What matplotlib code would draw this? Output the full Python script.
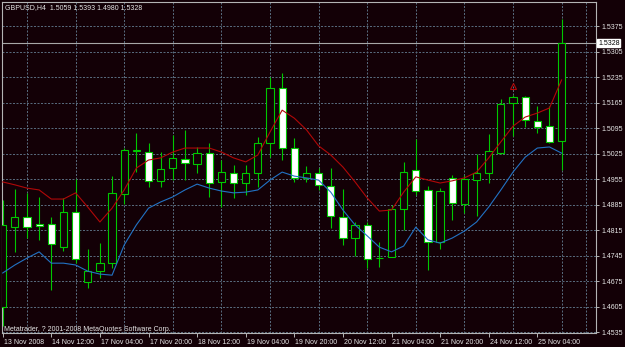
import matplotlib
matplotlib.use('Agg')
import matplotlib.pyplot as plt
import matplotlib.transforms as mtransforms
from matplotlib.patches import Rectangle

# GBPUSD H4 candles
opens = [1.4604, 1.4823, 1.4851, 1.4831, 1.4831, 1.4768, 1.4864, 1.4672, 1.4702, 1.4724,
         1.4914, 1.5032, 1.5029, 1.4950, 1.4985, 1.5010, 1.4996, 1.5026, 1.4947, 1.4971,
         1.4944, 1.4971, 1.5054, 1.5205, 1.5040, 1.4958, 1.4971, 1.4936, 1.4851, 1.4793,
         1.4829, 1.4738, 1.4741, 1.4873, 1.4980, 1.4925, 1.4782, 1.4958, 1.4886, 1.4952,
         1.4971, 1.5026, 1.5164, 1.5180, 1.5114, 1.5100, 1.5059]
highs = [1.4897, 1.4928, 1.4917, 1.4906, 1.4851, 1.4903, 1.4955, 1.4763, 1.4779, 1.4963,
         1.5040, 1.5081, 1.5054, 1.5029, 1.5076, 1.5090, 1.5043, 1.5054, 1.5007, 1.4993,
         1.4993, 1.5070, 1.5235, 1.5246, 1.5068, 1.4991, 1.4985, 1.4985, 1.4928, 1.4837,
         1.4837, 1.4782, 1.4884, 1.5002, 1.5065, 1.4936, 1.4930, 1.4966, 1.4966, 1.5024,
         1.5079, 1.5175, 1.5186, 1.5183, 1.5155, 1.5155, 1.5393]
lows = [1.4551, 1.4755, 1.4793, 1.4788, 1.4650, 1.4757, 1.4724, 1.4656, 1.4683, 1.4711,
        1.4886, 1.4974, 1.4933, 1.4933, 1.4952, 1.4952, 1.4971, 1.4906, 1.4878, 1.4903,
        1.4911, 1.4933, 1.5015, 1.5007, 1.4947, 1.4947, 1.4925, 1.4820, 1.4774, 1.4744,
        1.4711, 1.4713, 1.4741, 1.4815, 1.4911, 1.4705, 1.4763, 1.4842, 1.4862, 1.4853,
        1.4944, 1.5024, 1.5073, 1.5098, 1.5081, 1.5054, 1.4980]
closes = [1.4829, 1.4851, 1.4823, 1.4826, 1.4777, 1.4864, 1.4735, 1.4702, 1.4724, 1.4917,
          1.5035, 1.5035, 1.4950, 1.4982, 1.5013, 1.4999, 1.5026, 1.4944, 1.4974, 1.4944,
          1.4971, 1.5054, 1.5205, 1.5040, 1.4958, 1.4971, 1.4939, 1.4853, 1.4793, 1.4829,
          1.4735, 1.4738, 1.4873, 1.4974, 1.4922, 1.4782, 1.4922, 1.4889, 1.4955, 1.4971,
          1.5032, 1.5161, 1.5180, 1.5117, 1.5098, 1.5057, 1.5328]

# the two moving averages (red = fast, blue = slow)
ma_red = [1.4947, 1.4939, 1.4930, 1.4925, 1.4900, 1.4900, 1.4917, 1.4878, 1.4837, 1.4875,
          1.4925, 1.4985, 1.5007, 1.5013, 1.5029, 1.5040, 1.5040, 1.5040, 1.5029, 1.5013,
          1.5002, 1.5021, 1.5084, 1.5144, 1.5122, 1.5090, 1.5046, 1.5021, 1.4988, 1.4947,
          1.4903, 1.4867, 1.4870, 1.4919, 1.4961, 1.4952, 1.4944, 1.4950, 1.4958, 1.4974,
          1.5013, 1.5057, 1.5100, 1.5125, 1.5136, 1.5150, 1.5227]
ma_blue = [1.4697, 1.4719, 1.4738, 1.4755, 1.4724, 1.4724, 1.4719, 1.4702, 1.4694, 1.4691,
           1.4774, 1.4829, 1.4875, 1.4892, 1.4906, 1.4925, 1.4941, 1.4930, 1.4922, 1.4917,
           1.4919, 1.4925, 1.4952, 1.4974, 1.4963, 1.4958, 1.4952, 1.4919, 1.4870, 1.4829,
           1.4799, 1.4768, 1.4755, 1.4771, 1.4823, 1.4788, 1.4779, 1.4793, 1.4812, 1.4837,
           1.4878, 1.4925, 1.4974, 1.5015, 1.5040, 1.5043, 1.5026]

fractal_up = [42]

time_ticks = [0, 4, 8, 12, 16, 20, 24, 28, 32, 36, 40, 44]
time_labels = ['13 Nov 2008', '14 Nov 12:00', '17 Nov 04:00', '17 Nov 20:00', '18 Nov 12:00',
               '19 Nov 04:00', '19 Nov 20:00', '20 Nov 12:00', '21 Nov 04:00', '21 Nov 20:00',
               '24 Nov 12:00', '25 Nov 04:00']
price_ticks = [1.4535, 1.4605, 1.4675, 1.4745, 1.4815, 1.4885, 1.4955, 1.5025,
               1.5095, 1.5165, 1.5235, 1.5305, 1.5375]

bg = '#130006'
green = '#00c800'
txt = '#e6e6e6'
frame = '#b4b4b4'
gridc = '#56687a'

plt.rcParams['font.family'] = ['Liberation Sans', 'DejaVu Sans']

fig = plt.figure(figsize=(6.25, 3.47), dpi=100, facecolor=bg)
ax = fig.add_axes([2 / 625, 14 / 347, 594 / 625, 331 / 347])
ax.set_facecolor(bg)

# grid: vertical every 2 bars, horizontal at price labels
ax.set_xticks(range(0, 49, 2), minor=True)
ax.grid(which='minor', axis='x', color=gridc, linestyle=(0, (2, 1.5)), lw=0.72)
ax.grid(which='major', axis='y', color=gridc, linestyle=(0, (2, 1.5)), lw=0.72)
ax.set_axisbelow(True)

# candles: hollow = up, white = down
for i in range(len(opens)):
    o, h, l, c = opens[i], highs[i], lows[i], closes[i]
    ax.vlines(i, l, h, color=green, lw=0.8, zorder=2)
    face = bg if c >= o else 'white'
    ax.add_patch(Rectangle((i - 0.3, min(o, c)), 0.6, abs(c - o),
                           facecolor=face, edgecolor=green, lw=0.8, zorder=3))

x = list(range(len(opens)))
ax.plot(x, ma_red, color='#b00808', lw=0.8, zorder=4)
ax.plot(x, ma_blue, color='#2272c4', lw=0.8, zorder=4)

for i in fractal_up:
    ax.plot(i, highs[i] + 0.0025, marker='^', ms=4, mfc='none', mec='#b00808', mew=0.8, zorder=5)

# bid line + price box
ax.axhline(closes[-1], color='#a8a8a8', lw=0.8, zorder=1)
off = mtransforms.ScaledTranslation(2 / 100, 0, fig.dpi_scale_trans)
ax.text(1.0, closes[-1], f'{closes[-1]:.4f}', fontsize=5, color='black', va='center', ha='left',
        transform=mtransforms.blended_transform_factory(ax.transAxes, ax.transData) + off,
        bbox=dict(facecolor='white', edgecolor='white', pad=0.6), zorder=6, clip_on=False)

ax.set_xlim((2 - 2.7) / 12.15, (596 - 2.7) / 12.15)
ax.set_ylim(1.45323, 1.54409)

ax.yaxis.tick_right()
ax.set_yticks(price_ticks)
ax.set_yticklabels([f'{p:.4f}' for p in price_ticks])
ax.tick_params(axis='y', length=2, width=0.7, color=frame, labelsize=5, labelcolor=txt, pad=2)

ax.set_xticks(time_ticks)
ax.set_xticklabels(time_labels, ha='left')
ax.tick_params(axis='x', which='major', length=3, width=0.7, color=frame, labelsize=5,
               labelcolor=txt, pad=1)
ax.tick_params(axis='x', which='minor', length=0)
shift = mtransforms.ScaledTranslation(1 / 100, 0, fig.dpi_scale_trans)
for lab in ax.get_xticklabels():
    lab.set_transform(lab.get_transform() + shift)

for s in ax.spines.values():
    s.set_color(frame)
    s.set_linewidth(0.8)

fig.text(5 / 625, 1 - 4 / 347,
         f'GBPUSD,H4  {opens[-1]:.4f} {highs[-1]:.4f} {lows[-1]:.4f} {closes[-1]:.4f}',
         fontsize=5, color=txt, va='top', ha='left')
fig.text(4 / 625, 1 - 331 / 347, 'Metatrader, ? 2001-2008 MetaQuotes Software Corp.',
         fontsize=5, color=txt, va='baseline', ha='left')

fig.savefig('out.png', dpi=100, facecolor=bg)
